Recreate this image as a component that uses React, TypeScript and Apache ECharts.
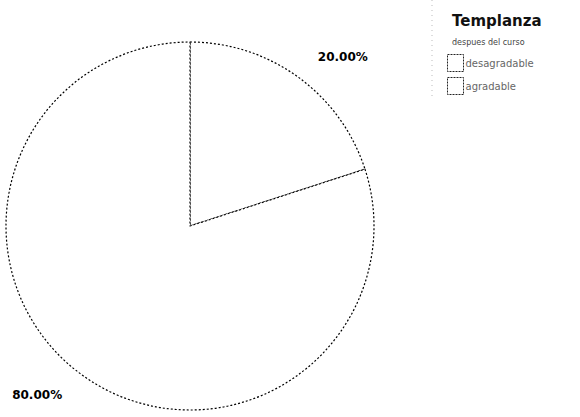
import React, { useEffect, useRef } from "react";
import * as echarts from "echarts";

const categories = ["desagradable", "agradable"];
const values = [20, 80];
const titleText = "Templanza";
const subtitleText = "despues del curso";

export default function App() {
  const ref = useRef<HTMLDivElement>(null);
  useEffect(() => {
    document.body.style.margin = "0";
    const chart = echarts.init(ref.current!, null, { renderer: "svg" });
    chart.setOption({
      animation: false,
      backgroundColor: "#ffffff",
      title: {
        text: titleText,
        subtext: subtitleText,
        left: 447,
        top: 8,
        itemGap: 10,
        textStyle: {
          fontFamily: "DejaVu Sans",
          fontSize: 15,
          fontWeight: "bold",
          color: "#111",
          letterSpacing: 1,
        },
        subtextStyle: {
          fontFamily: "DejaVu Sans",
          fontSize: 8,
          color: "#444",
        },
      },
      legend: {
        orient: "vertical",
        left: 447,
        top: 54,
        padding: 0,
        itemWidth: 16,
        itemHeight: 17,
        itemGap: 5,
        icon: "rect",
        data: categories,
        itemStyle: { borderWidth: 1, borderColor: "#222", borderType: [2, 1] },
        textStyle: {
          fontFamily: "DejaVu Sans",
          fontSize: 10,
          color: "#666",
          padding: [0, 0, 0, -3],
        },
      },
      graphic: [
        {
          type: "line",
          shape: { x1: 432, y1: 0, x2: 432, y2: 100 },
          style: { stroke: "#bbb", lineWidth: 1, lineDash: [1, 4] },
        },
      ],
      series: [
        {
          type: "pie",
          center: [190, 226],
          radius: 184,
          startAngle: 90,
          clockwise: true,
          itemStyle: {
            color: "#ffffff",
            borderColor: "#000",
            borderWidth: 1.2,
            borderType: [2, 2],
          },
          emphasis: { disabled: true },
          label: {
            show: true,
            position: "outside",
            formatter: (p: any) => p.percent.toFixed(2) + "%",
            fontFamily: "DejaVu Sans",
            fontSize: 12,
            fontWeight: 900,
            color: "#000",
            letterSpacing: 0.5,
          },
          labelLine: { show: false, length: 25, length2: 0 },
          data: categories.map((c, i) => ({ name: c, value: values[i] })),
        },
      ],
    });
    return () => chart.dispose();
  }, []);
  return <div ref={ref} style={{ width: 580, height: 417 }} />;
}
